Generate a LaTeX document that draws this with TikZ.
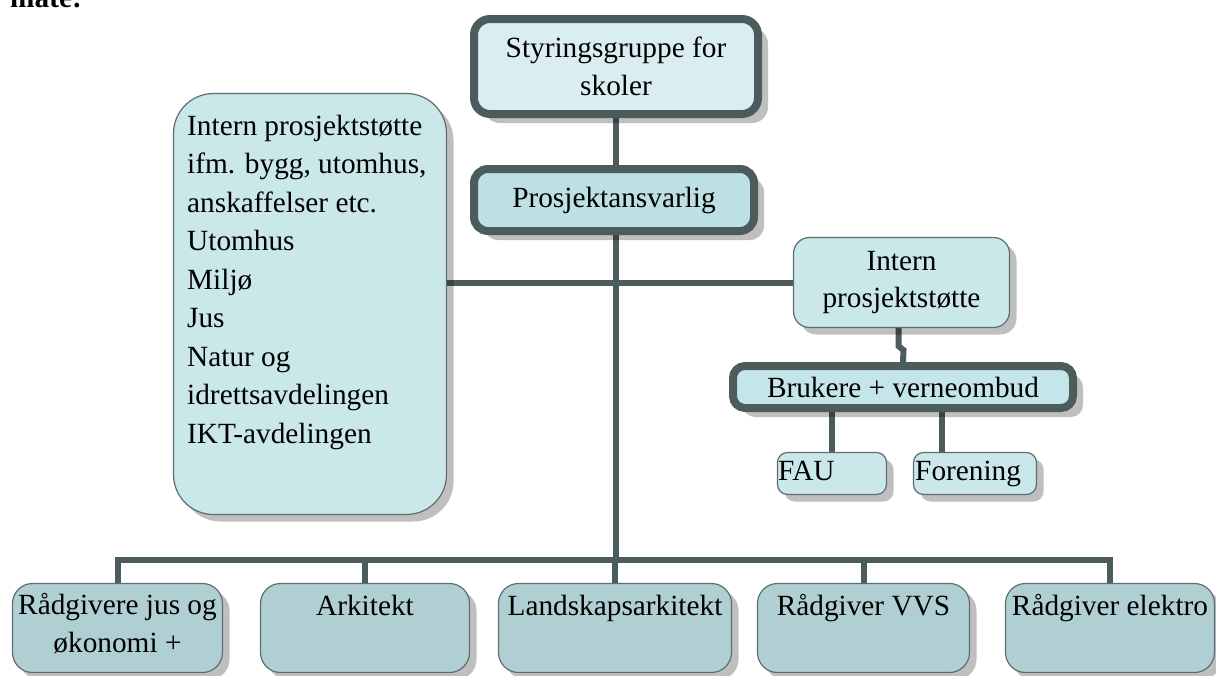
\documentclass[tikz,border=0pt]{standalone}
\usepackage{fontspec}
\setmainfont{Liberation Serif}
\usetikzlibrary{shadows,backgrounds}

\definecolor{linegray}{HTML}{4C5C5C}
\definecolor{edgegray}{HTML}{5E6E70}
\definecolor{fillTop}{HTML}{DAEEF1}
\definecolor{fillLead}{HTML}{BCE0E4}
\definecolor{fillSupport}{HTML}{CAE7EA}
\definecolor{fillUsers}{HTML}{C4E5E9}
\definecolor{fillAdvisor}{HTML}{AFCFD3}

\begin{document}
\begin{tikzpicture}[x=1pt,y=-1pt,
  txt/.style={font=\fontsize{29.3}{37.5}\selectfont, inner sep=0pt, align=center},
  thinbox/.style={rectangle, rounded corners=#1, draw=edgegray, line width=1.2pt,
    inner sep=0pt, general shadow={fill=black, opacity=.25, shadow xshift=7pt, shadow yshift=-7pt}},
  heavybox/.style={rectangle, rounded corners=#1, draw=linegray, line width=8pt,
    inner sep=0pt, general shadow={fill=black, opacity=.25, shadow xshift=10pt, shadow yshift=-9pt}},
  conn/.style={draw=linegray, line width=6pt, line join=miter}]

\useasboundingbox (0,0) rectangle (1216,675);
\clip (0,0) rectangle (1216,675);

% trailing word of the preceding paragraph
\node[font=\fontsize{29.3}{37.5}\selectfont\bfseries, inner sep=0pt, anchor=base west] (intro) at (10,7) {måte:};

% steering group and project lead
\node[heavybox=16, fill=fillTop, minimum width=284pt, minimum height=95pt, txt] (top) at (616,66.5)
  {Styringsgruppe for\\skoler};
\node[heavybox=14, fill=fillLead, minimum width=280pt, minimum height=62pt, txt] (lead) at (614,200)
  {Prosjektansvarlig};

% internal support (left); the base anchor sits on the last line
\node[thinbox=40, fill=fillSupport, minimum width=273pt, minimum height=421pt] (support) at (310,304) {};
\node[txt, align=left, anchor=base west, font=\fontsize{29.3}{38.5}\selectfont] (supporttext) at (187,443)
  {Intern prosjektstøtte\\ifm. bygg, utomhus,\\anskaffelser etc.\\Utomhus\\Miljø\\Jus\\Natur og\\idrettsavdelingen\\IKT-avdelingen};

% internal support (right) and users
\node[thinbox=16, fill=fillSupport, minimum width=216pt, minimum height=90pt, txt] (intern) at (901.5,282.5)
  {Intern\\prosjektstøtte};
\node[heavybox=12, fill=fillUsers, minimum width=340pt, minimum height=42pt, txt] (users) at (903,387)
  {Brukere + verneombud};
\node[thinbox=10, fill=fillSupport, minimum width=109pt, minimum height=42pt] (fau) at (832,473.5) {};
\node[txt, anchor=base west] (fautext) at (778,480) {FAU};
\node[thinbox=10, fill=fillSupport, minimum width=123pt, minimum height=42pt] (forening) at (975,473.5) {};
\node[txt, anchor=base west] (foreningtext) at (915,480) {Forening};
\coordinate (foreningtop) at (942,452);

% advisors
\foreach \name/\cx/\w in {adv1/117.5/210, adv2/365/209, adv3/615/233, adv4/863.5/212, adv5/1110/209}
  \node[thinbox=20, fill=fillAdvisor, minimum width=\w pt, minimum height=89pt] (\name) at (\cx,628) {};
\node[txt, anchor=base] (adv1text) at (117.5,652) {Rådgivere jus og\\økonomi +};
\node[txt, anchor=base] (adv2text) at (365,615) {Arkitekt};
\node[txt, anchor=base] (adv3text) at (615,615) {Landskapsarkitekt};
\node[txt, anchor=base] (adv4text) at (863.5,615) {Rådgiver VVS};
\node[txt, anchor=base] (adv5text) at (1110,615) {Rådgiver elektro};

\coordinate (bus) at (616,560);

\begin{scope}[on background layer]
  % main trunk
  \draw[conn] (top.south) -- (top.south |- bus);
  % advisor bus
  \draw[conn] (adv1.north) -- (adv1.north |- bus) -- (adv5.north |- bus) -- (adv5.north);
  \foreach \name in {adv2,adv3,adv4}
    \draw[conn] (\name.north) -- (\name.north |- bus);
  % cross link to the support units
  \draw[conn] (intern.west -| support.east) -- (intern.west);
  % support to users
  \draw[conn] ([xshift=-3pt]intern.south) -- ++(0,18) -- ++(5,4) -- (users.north);
  % users to parent groups
  \draw[conn] (fau.north) -- (fau.north |- users.south);
  \draw[conn] (foreningtop) -- (foreningtop |- users.south);
\end{scope}
\end{tikzpicture}
\end{document}
